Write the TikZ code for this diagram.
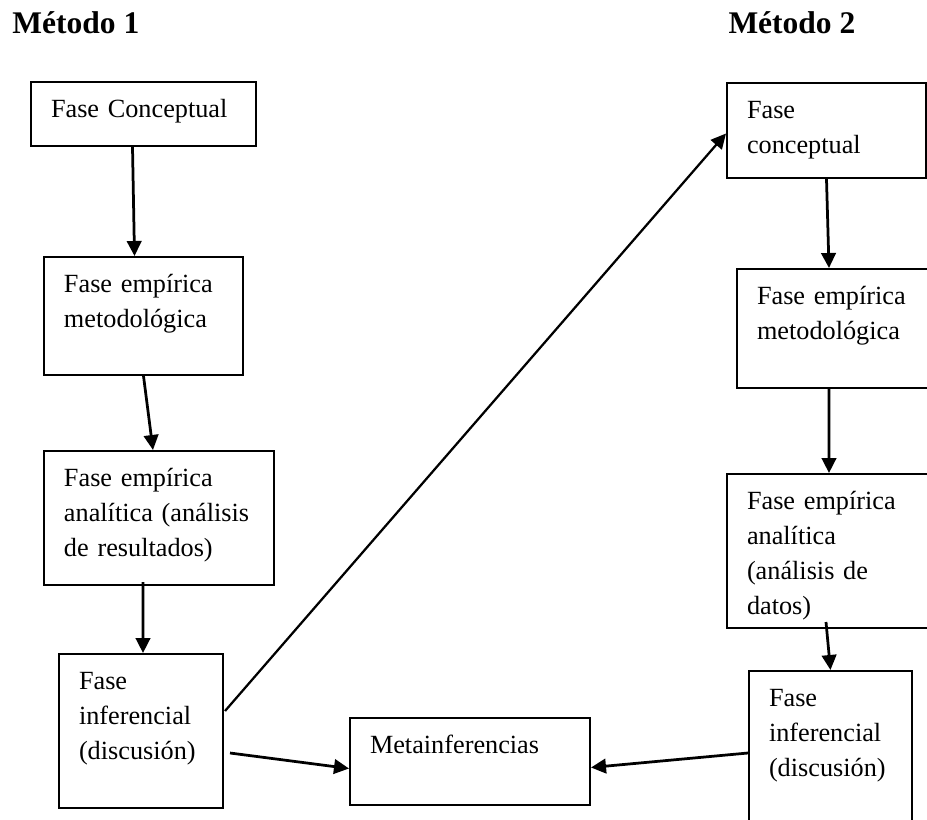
\documentclass[tikz,border=0pt]{standalone}
\usepackage{fontspec}
\setmainfont{Liberation Serif}
\usetikzlibrary{arrows.meta,calc}
\begin{document}
\begin{tikzpicture}[x=0.4pt,y=-0.4pt]
        \tikzstyle{fase} = [draw, line width=0.8pt, anchor=north west, align=left, inner xsep=8pt, inner ysep=4.2pt, text height=9.8pt, font=\fontsize{10.5}{14}\selectfont]
        \tikzstyle{titulo} = [anchor=base west, inner sep=0pt, font=\fontsize{12.6}{15}\selectfont\bfseries]
        \tikzstyle{flecha} = [line width=1.1pt, -{Triangle[length=6pt,width=5.8pt]}]

		\clip (0,0) rectangle (927,820);

		\node[titulo] (m1) at (12,33) {Método 1};
		\node[titulo] (m2) at (728,33) {Método 2};

		\node[fase, text width=74pt, text depth=7.4pt] (c1) at (30,81) {Fase Conceptual};
		\node[fase, text width=63.6pt, text depth=29pt] (e1) at (43,256) {Fase empírica\\metodológica};
		\node[fase, text width=76pt, text depth=35.4pt] (a1) at (43,450) {Fase empírica\\analítica (análisis\\de resultados)};
		\node[fase, text width=49.6pt, text depth=43.4pt] (i1) at (58,653) {Fase\\inferencial\\(discusión)};
		\node[fase, text width=63.6pt, text depth=19.8pt] (c2) at (726,82) {Fase\\conceptual};
		\node[fase, text width=65.6pt, text depth=29.4pt] (e2) at (736,268) {Fase empírica\\metodológica};
		\node[fase, text width=69.6pt, text depth=43.4pt] (a2) at (726,473) {Fase empírica\\analítica\\(análisis de\\datos)};
		\node[fase, text width=49.2pt, text depth=49.8pt] (i2) at (748,670) {Fase\\inferencial\\(discusión)};
		\node[fase, text width=80pt, text depth=16.6pt] (meta) at (349,717) {Metainferencias};

		\draw[flecha] ($(c1.south)+(-11,0)$) -- ($(e1.north)+(-9,0)$);
		\draw[flecha] (e1.south) -- ($(a1.north)+(-6,0)$);
		\draw[flecha] ($(a1.south)+(-16,-4)$) -- ($(i1.north)+(2,0)$);
		\draw[flecha, line width=0.9pt] ($(i1.east)+(1,-20)$) -- ($(c2.west)+(0,3)$);
		\draw[flecha] ($(i1.east)+(6,22)$) -- ($(meta.west)+(0,7)$);
		\draw[flecha] (c2.south) -- ($(e2.north)+(-10,0)$);
		\draw[flecha] ($(e2.south)+(-10,0)$) -- ($(a2.north)+(-5,0)$);
		\draw[flecha] ($(a2.south)+(-8,-7)$) -- (i2.north);
		\draw[flecha] ($(i2.west)+(0,-3)$) -- ($(meta.east)+(0,6)$);

    \end{tikzpicture}
\end{document}
